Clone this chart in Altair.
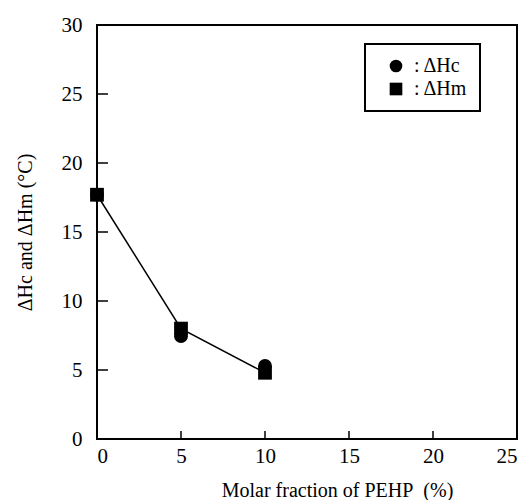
import altair as alt
import pandas as pd

x_vals = [0, 5, 10]
dhc = [17.7, 7.45, 5.3]
dhm = [17.7, 8.0, 4.8]
y_ticks = [5, 10, 15, 20, 25]
x_ticks = [5, 10, 15, 20]

W, H = 420, 414
FONT = "Liberation Serif"

pts = pd.DataFrame(
    {"x": x_vals * 2, "y": dhc + dhm, "s": ["ΔHc"] * 3 + ["ΔHm"] * 3}
)
line_df = pd.DataFrame({"x": x_vals, "y": dhm})
yt = pd.DataFrame({"v": y_ticks})
xt = pd.DataFrame({"v": x_ticks})

xs = alt.Scale(domain=[0, 25], nice=False, zero=False)
ys = alt.Scale(domain=[0, 30], nice=False, zero=False)

xaxis = alt.Axis(values=[0, 5, 10, 15, 20, 25], ticks=False, domain=False, grid=False,
                 labelPadding=6, title="Molar fraction of PEHP\u00a0 (%)", titlePadding=14,
                 titleX=240, titleAlign="center")
yaxis = alt.Axis(values=[0, 5, 10, 15, 20, 25, 30], ticks=False, domain=False, grid=False,
                 labelPadding=15, title="ΔHc and ΔHm (°C)", titlePadding=26)

line = alt.Chart(line_df).mark_line(color="black", strokeWidth=1.5).encode(
    x=alt.X("x:Q", scale=xs, axis=xaxis),
    y=alt.Y("y:Q", scale=ys, axis=yaxis),
)

points = alt.Chart(pts).mark_point(filled=True, opacity=1, size=190).encode(
    x=alt.X("x:Q", scale=xs),
    y=alt.Y("y:Q", scale=ys),
    shape=alt.Shape("s:N", scale=alt.Scale(domain=["ΔHc", "ΔHm"], range=["circle", "square"]),
                    legend=alt.Legend(orient="none", legendX=268, legendY=19, title=None,
                                      labelExpr="': ' + datum.label + '\u00a0\u00a0\u00a0\u00a0\u00a0'",
                                      strokeColor="black", padding=12,
                                      fillColor="white",
                                      symbolSize=160, symbolFillColor="black",
                                      symbolStrokeColor="black", rowPadding=3,
                                      symbolOffset=9, labelOffset=8)),
    color=alt.value("black"),
)

yticks = alt.Chart(yt).mark_rule(color="black", strokeWidth=1.5).encode(
    y=alt.Y("v:Q", scale=ys), x=alt.value(0), x2=alt.value(11)
)
xticks = alt.Chart(xt).mark_rule(color="black", strokeWidth=1.5).encode(
    x=alt.X("v:Q", scale=xs), y=alt.value(H), y2=alt.value(H - 8)
)

chart = alt.layer(line, points, yticks, xticks).properties(
    width=W, height=H,
    autosize=alt.AutoSizeParams(type="none"),
    padding={"left": 89, "top": 17, "right": 2, "bottom": 61},
).configure_view(stroke="black", strokeWidth=2).configure_axis(
    labelFont=FONT, titleFont=FONT, labelFontSize=21, titleFontSize=20,
    labelColor="black", titleColor="black", titleFontWeight="normal",
).configure_legend(labelFont=FONT, labelFontSize=20, labelColor="black", strokeWidth=2)

chart.save("out.html", embed_options={"renderer": "svg", "actions": False})
